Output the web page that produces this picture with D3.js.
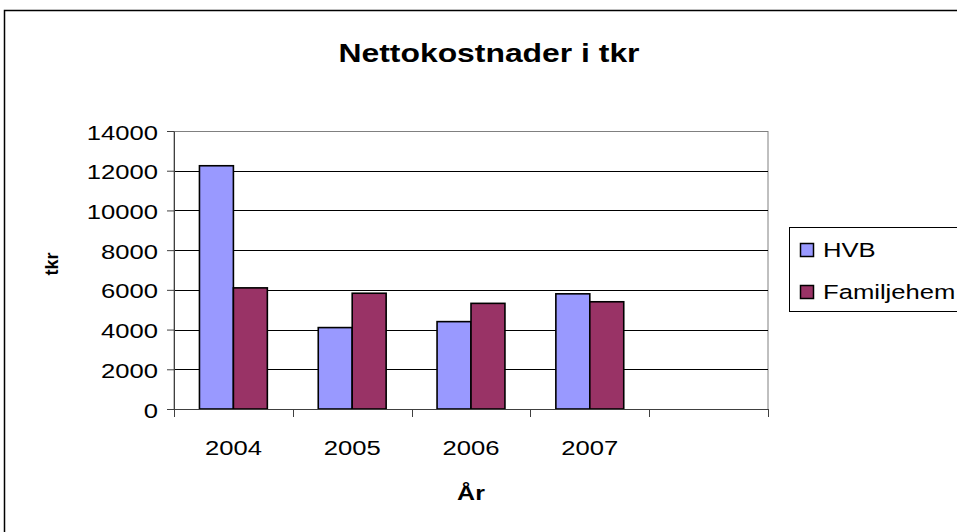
<!DOCTYPE html>
<html><head><meta charset="utf-8">
<script src="https://cdn.jsdelivr.net/npm/d3@7"></script>
<style>body{margin:0;background:#fff;} svg{display:block;font-family:"Liberation Sans",Arial,sans-serif;}</style>
</head><body>
<svg id="c" width="957" height="532"></svg>
<script>
const categories = ["2004","2005","2006","2007",""];
const seriesNames = ["HVB","Familjehem"];
const hvb = [12250, 4100, 4400, 5800, null];
const familjehem = [6100, 5830, 5320, 5400, null];
const yTicks = [0,2000,4000,6000,8000,10000,12000,14000];
const colors = ["#9999FF","#993366"];

const SX = 1.25; // horizontal stretch of the text in the reference
const FS = 20.5;

const svg = d3.select("#c");
svg.append("rect").attr("x",4.5).attr("y",10.5).attr("width",970).attr("height",540)
  .attr("fill","#fff").attr("stroke","#000").attr("stroke-width",1.5);

const L=174,R=768,T=131,B=409;
const x = d3.scaleBand().domain(categories.map((c,i)=>i)).range([L,R]).paddingInner(0).paddingOuter(0);
const y = d3.scaleLinear().domain([0,14000]).range([B,T]);
const inner = d3.scaleBand().domain([0,1]).range([0,x.bandwidth()]).paddingInner(0).paddingOuter(0.75);

// plot border
svg.append("rect").attr("x",L).attr("y",T+0.5).attr("width",R-L).attr("height",B-T)
  .attr("fill","#fff").attr("stroke","#808080").attr("stroke-width",1);
// gridlines
svg.append("g").selectAll("line").data(yTicks.filter(v=>v>0 && v<14000)).join("line")
  .attr("x1",L).attr("x2",R).attr("y1",d=>Math.round(y(d))+0.5).attr("y2",d=>Math.round(y(d))+0.5)
  .attr("stroke","#000").attr("stroke-width",1);

// bars
const data = [hvb,familjehem];
data.forEach((arr,s)=>{
  svg.append("g").selectAll("rect").data(arr.map((v,i)=>({v,i})).filter(d=>d.v!=null)).join("rect")
    .attr("x",d=>x(d.i)+inner(s)).attr("width",inner.bandwidth())
    .attr("y",d=>y(d.v)).attr("height",d=>B-y(d.v))
    .attr("fill",colors[s]).attr("stroke","#000").attr("stroke-width",1.6);
});

// axes
const yAxis = d3.axisLeft(y).tickValues(yTicks).tickSize(7).tickSizeOuter(0).tickFormat(d=>d);
const gy = svg.append("g").attr("transform",`translate(${L},0)`).call(yAxis);
gy.select(".domain").attr("stroke","#404040");
gy.selectAll(".tick line").attr("stroke","#404040");
gy.selectAll("text").attr("font-size",FS).attr("fill","#000").attr("x",-16/SX).attr("dy",null).attr("y",8)
  .attr("transform",`scale(${SX},1)`)
  .attr("font-family","Liberation Sans, Arial, sans-serif");

const xAxis = d3.axisBottom(x).tickSize(0).tickFormat(i=>categories[i]);
const gx = svg.append("g").attr("transform",`translate(0,${B})`).call(xAxis);
gx.select(".domain").attr("stroke","#404040");
gx.selectAll("text").attr("font-size",FS).attr("fill","#000").attr("y",46).attr("dy",null)
  .attr("transform",`scale(${SX},1)`)
  .attr("font-family","Liberation Sans, Arial, sans-serif");
// category boundary ticks
svg.append("g").selectAll("line").data(d3.range(categories.length+1)).join("line")
  .attr("x1",i=>Math.round(L+i*x.bandwidth())+0.5).attr("x2",i=>Math.round(L+i*x.bandwidth())+0.5)
  .attr("y1",B).attr("y2",B+8).attr("stroke","#404040");

// titles
svg.append("text").attr("transform",`translate(489,61.5) scale(${SX},1)`).attr("text-anchor","middle")
  .attr("font-size",25.5).attr("font-weight","bold").text("Nettokostnader i tkr");
svg.append("text").attr("transform",`translate(471,500) scale(${SX},1)`).attr("text-anchor","middle")
  .attr("font-size",20).attr("font-weight","bold").text("År");
svg.append("text").attr("transform",`translate(58,264) rotate(-90)`).attr("text-anchor","middle")
  .attr("font-size",18).attr("font-weight","bold").text("tkr");

// legend
const lg = svg.append("g");
lg.append("rect").attr("x",789.5).attr("y",227.5).attr("width",200).attr("height",84)
  .attr("fill","#fff").attr("stroke","#000").attr("stroke-width",1);
seriesNames.forEach((n,i)=>{
  const yy = 243 + i*42;
  lg.append("rect").attr("x",800.5).attr("y",yy+0.5).attr("width",13).attr("height",13)
    .attr("fill",colors[i]).attr("stroke","#000").attr("stroke-width",1.5);
  lg.append("text").attr("transform",`translate(823,${yy+14}) scale(${SX},1)`).attr("font-size",FS).text(n);
});
</script>
</body></html>
